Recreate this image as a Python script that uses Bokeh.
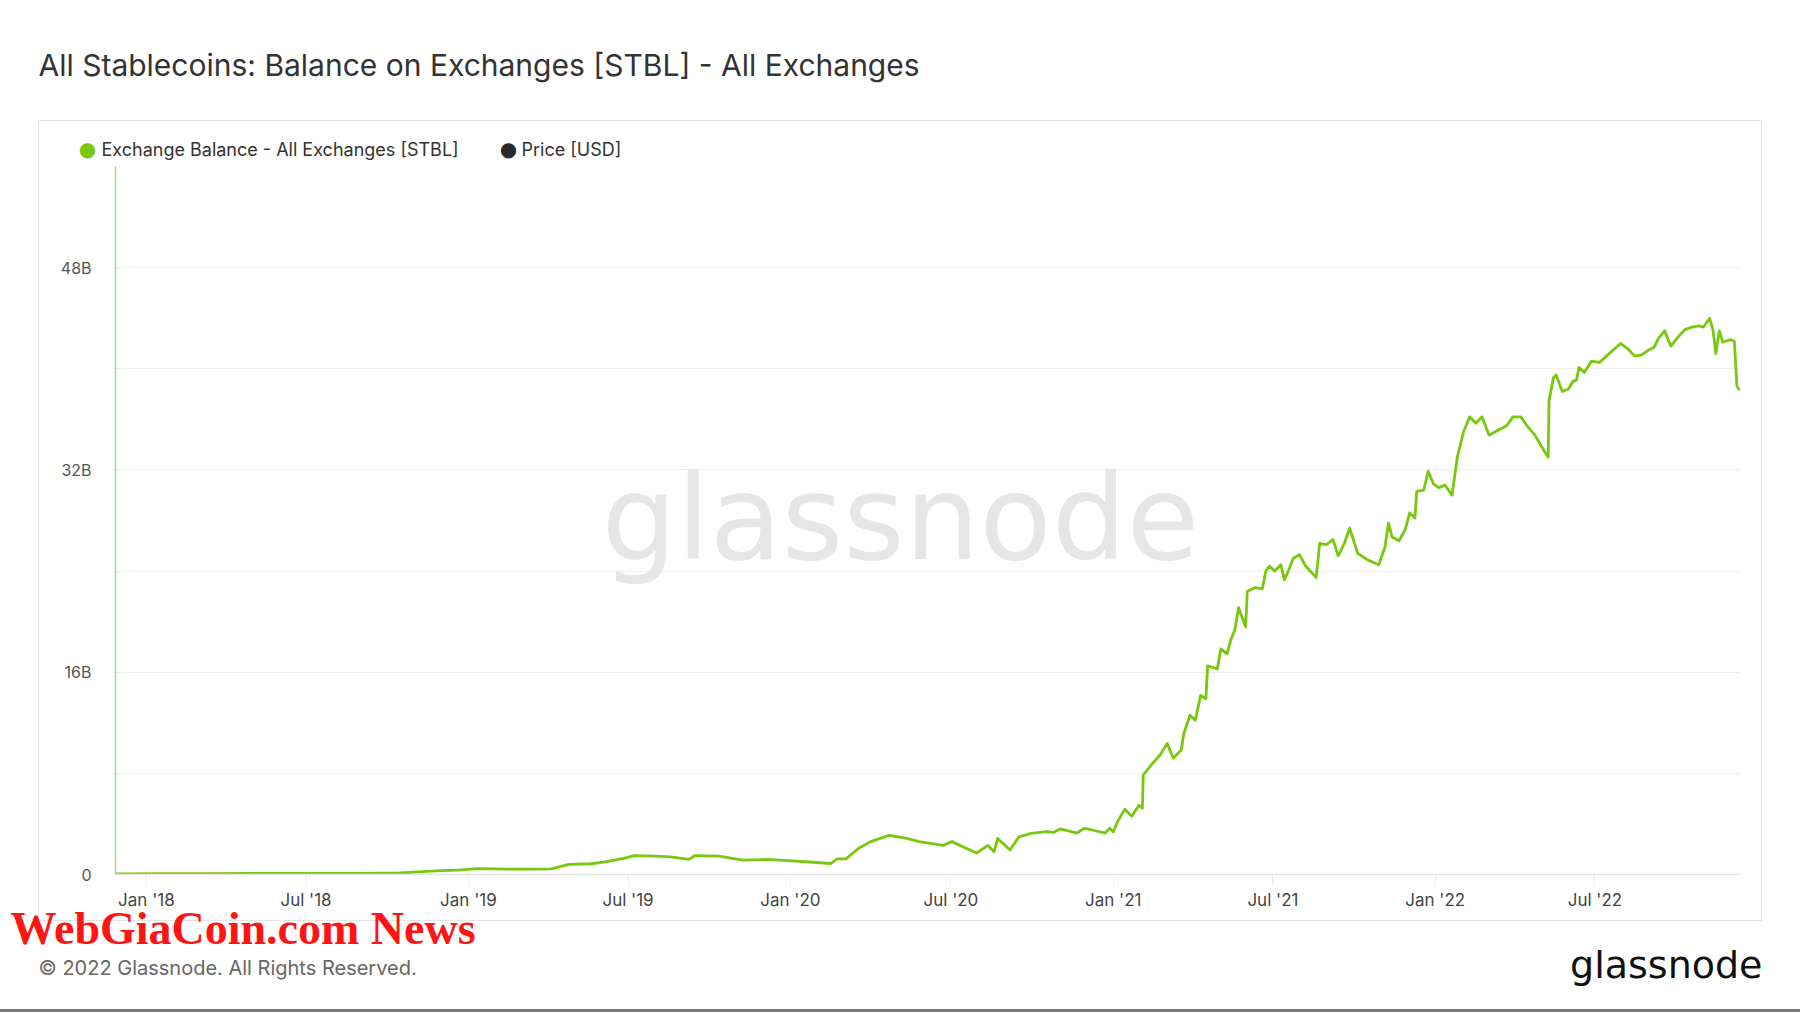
import datetime as dt
from bokeh.plotting import figure
from bokeh.models import (Range1d, Label, FixedTicker,
                          DatetimeTickFormatter, CustomJSTickFormatter)
from bokeh.embed import file_html
from bokeh.resources import INLINE

# ---------------- data ----------------
dates = [
    "2017-11-27", "2018-01-15", "2018-03-01", "2018-05-01", "2018-07-01", "2018-09-01",
    "2018-10-15", "2018-11-10", "2018-12-01", "2018-12-20", "2019-01-11", "2019-02-15",
    "2019-03-15", "2019-04-05", "2019-04-25", "2019-05-20", "2019-06-05", "2019-06-25",
    "2019-07-08", "2019-08-01", "2019-08-18", "2019-09-08", "2019-09-15", "2019-10-12",
    "2019-11-08", "2019-12-06", "2020-01-03", "2020-02-16", "2020-02-23", "2020-03-04",
    "2020-03-18", "2020-04-01", "2020-04-22", "2020-05-12", "2020-05-26", "2020-06-22",
    "2020-07-02", "2020-07-30", "2020-08-12", "2020-08-19", "2020-08-23", "2020-09-06",
    "2020-09-16", "2020-09-30", "2020-10-17", "2020-10-25", "2020-11-02", "2020-11-21",
    "2020-11-29", "2020-12-07", "2020-12-23", "2020-12-28", "2021-01-01", "2021-01-06",
    "2021-01-14", "2021-01-22", "2021-01-30", "2021-02-03", "2021-02-04", "2021-02-13",
    "2021-02-23", "2021-03-03", "2021-03-10", "2021-03-19", "2021-03-22", "2021-03-29",
    "2021-04-04", "2021-04-10", "2021-04-16", "2021-04-18", "2021-04-29", "2021-05-03",
    "2021-05-10", "2021-05-14", "2021-05-19", "2021-05-23", "2021-05-31", "2021-06-02",
    "2021-06-11", "2021-06-19", "2021-06-23", "2021-06-27", "2021-07-03", "2021-07-10",
    "2021-07-14", "2021-07-19", "2021-07-24", "2021-07-31", "2021-08-07", "2021-08-19",
    "2021-08-23", "2021-08-31", "2021-09-07", "2021-09-13", "2021-09-20", "2021-09-26",
    "2021-10-05", "2021-10-16", "2021-10-29", "2021-11-05", "2021-11-09", "2021-11-13",
    "2021-11-21", "2021-11-28", "2021-12-03", "2021-12-09", "2021-12-11", "2021-12-19",
    "2021-12-24", "2021-12-30", "2022-01-05", "2022-01-12", "2022-01-20", "2022-01-26",
    "2022-02-02", "2022-02-09", "2022-02-16", "2022-02-23", "2022-03-03", "2022-03-12",
    "2022-03-23", "2022-03-30", "2022-04-08", "2022-04-16", "2022-04-24", "2022-05-02",
    "2022-05-09", "2022-05-10", "2022-05-15", "2022-05-18", "2022-05-25", "2022-06-01",
    "2022-06-06", "2022-06-10", "2022-06-13", "2022-06-19", "2022-06-27", "2022-07-06",
    "2022-07-14", "2022-07-22", "2022-07-30", "2022-08-07", "2022-08-15", "2022-08-23",
    "2022-08-29", "2022-09-06", "2022-09-11", "2022-09-18", "2022-09-25", "2022-10-03",
    "2022-10-11", "2022-10-19", "2022-10-27", "2022-11-01", "2022-11-08", "2022-11-12",
    "2022-11-15", "2022-11-19", "2022-11-23", "2022-12-01", "2022-12-06", "2022-12-09",
    "2022-12-12",
]
balance_bn = [
    0.05, 0.06, 0.07, 0.08, 0.09, 0.08,
    0.12, 0.22, 0.30, 0.35, 0.47, 0.42,
    0.42, 0.45, 0.80, 0.85, 1.00, 1.25,
    1.50, 1.45, 1.40, 1.20, 1.50, 1.45,
    1.13, 1.19, 1.08, 0.87, 1.24, 1.24,
    2.06, 2.60, 3.10, 2.85, 2.60, 2.30,
    2.60, 1.70, 2.30, 1.80, 2.85, 1.93,
    2.98, 3.25, 3.40, 3.33, 3.60, 3.28,
    3.65, 3.54, 3.28, 3.67, 3.36, 4.20,
    5.17, 4.60, 5.46, 5.25, 7.87, 8.66,
    9.45, 10.37, 9.19, 9.84, 11.15, 12.60,
    12.20, 14.17, 13.90, 16.50, 16.27, 17.85,
    17.45, 18.50, 19.40, 21.10, 19.60, 22.40,
    22.70, 22.60, 24.00, 24.40, 24.00, 24.50,
    23.30, 24.10, 25.00, 25.30, 24.40, 23.50,
    26.20, 26.10, 26.50, 25.20, 26.20, 27.40,
    25.40, 24.90, 24.50, 25.90, 27.80, 26.70,
    26.40, 27.30, 28.60, 28.20, 30.30, 30.40,
    31.90, 30.90, 30.60, 30.80, 30.00, 33.00,
    35.00, 36.20, 35.70, 36.20, 34.75, 35.10,
    35.50, 36.20, 36.20, 35.40, 34.75, 33.80,
    33.00, 37.50, 39.30, 39.50, 38.20, 38.40,
    39.00, 39.10, 40.10, 39.70, 40.60, 40.50,
    41.00, 41.50, 42.00, 41.60, 41.00, 41.10,
    41.40, 41.70, 42.40, 43.00, 41.80, 42.50,
    43.10, 43.30, 43.40, 43.30, 44.00, 43.00,
    41.20, 43.00, 42.10, 42.30, 42.20, 38.60,
    38.30,
]
x_tick_dates = ["2018-01-01", "2018-07-01", "2019-01-01", "2019-07-01", "2020-01-01",
                "2020-07-01", "2021-01-01", "2021-07-01", "2022-01-01", "2022-07-01"]
y_ticks_bn = [0, 16, 32, 48]
y_grid_bn = [0, 8, 16, 24, 32, 40, 48, 56]
x_start, x_end = "2017-11-27", "2022-12-13"

title_text = "All Stablecoins: Balance on Exchanges [STBL] - All Exchanges"
legend_labels = ["Exchange Balance - All Exchanges [STBL]", "Price [USD]"]
legend_colors = ["#78c80e", "#2b2b2b"]
footer_text = "\u00a9 2022 Glassnode. All Rights Reserved."
brand_text = "glassnode"
overlay_text = "WebGiaCoin.com News"

# ---------------- figure ----------------
W, H = 1800, 1013
FL, FR, FT, FB = 115, 1740, 166, 874   # frame edges in page pixels

EPOCH = dt.datetime(1970, 1, 1)
def to_dt(s):
    return dt.datetime.fromisoformat(s)
def to_ms(s):
    return (to_dt(s) - EPOCH).total_seconds() * 1000.0

css = """
:host::before { content: ""; position: absolute; left: 38px; top: 120px;
  width: 1724px; height: 801px; border: 1.5px solid #e4e4e4; box-sizing: border-box;
  pointer-events: none; z-index: -1; }
:host::after { content: ""; position: absolute; left: 0px; top: 1009px;
  width: 1800px; height: 3px; background: #7a7a7a; pointer-events: none; z-index: 10; }
"""

p = figure(width=W, height=H, x_axis_type="datetime",
           output_backend="svg", toolbar_location=None,
           x_range=Range1d(to_dt(x_start), to_dt(x_end)),
           y_range=Range1d(0, 56),
           min_border_left=FL, min_border_right=W - FR,
           min_border_top=FT, min_border_bottom=H - FB,
           stylesheets=[css])
p.background_fill_color = None
p.border_fill_color = None
p.outline_line_color = None

# page-pixel helper ranges (for texts placed around the frame)
p.extra_x_ranges = {"px": Range1d(FL, FR)}
p.extra_y_ranges = {"py": Range1d(FB, FT)}

# axes / grid
p.xgrid.visible = False
p.ygrid.ticker = FixedTicker(ticks=y_grid_bn)
p.ygrid.grid_line_color = "#efefef"
p.ygrid.grid_line_width = 1

p.xaxis.ticker = FixedTicker(ticks=[to_ms(d) for d in x_tick_dates])
p.xaxis.formatter = DatetimeTickFormatter(days="%b '%y", months="%b '%y", years="%b '%y")
p.xaxis.axis_line_color = "#e3e3e3"
p.xaxis.axis_line_width = 1.5
p.xaxis.major_tick_line_color = "#ebebeb"
p.xaxis.major_tick_out = 12
p.xaxis.major_tick_in = 0
p.xaxis.minor_tick_line_color = None
p.xaxis.major_label_standoff = 3
p.xaxis.major_label_text_font = "Inter"
p.xaxis.major_label_text_font_size = "17px"
p.xaxis.major_label_text_color = "#444444"

p.yaxis.ticker = FixedTicker(ticks=y_ticks_bn)
p.yaxis.formatter = CustomJSTickFormatter(code="return tick == 0 ? '0' : tick + 'B';")
p.yaxis.axis_line_color = "#a8dc70"
p.yaxis.axis_line_width = 1.5
p.yaxis.major_tick_line_color = None
p.yaxis.minor_tick_line_color = None
p.yaxis.major_label_standoff = 18
p.yaxis.major_label_text_font = "Inter"
p.yaxis.major_label_text_font_size = "16px"
p.yaxis.major_label_text_color = "#555555"

def add_text(x, y, text, size, color, font="Inter", align="left",
             style="normal", place="above", level="annotation"):
    lab = Label(x=x, y=y, text=text, x_range_name="px", y_range_name="py",
                text_font=font, text_font_size=size, text_color=color,
                text_align=align, text_baseline="middle",
                text_font_style=style, level=level)
    if place == "center":
        p.add_layout(lab)
    else:
        p.add_layout(lab, place)

# watermark (inside the frame)
add_text(900, 517, brand_text, "118px", "#e6e6e6", font="DejaVu Sans",
         align="center", place="center", level="underlay")

# data line
p.line([to_dt(d) for d in dates], balance_bn, line_color=legend_colors[0],
       line_width=2.8, line_join="round")

# title, legend, logo
add_text(38, 64, title_text, "30px", "#333333")
add_text(87, 148, "\u25cf", "20px", legend_colors[0], font="DejaVu Sans",
         align="center", place="left")
add_text(101, 149, legend_labels[0], "18px", "#333333")
add_text(508, 148, "\u25cf", "20px", legend_colors[1], font="DejaVu Sans",
         align="center", place="left")
add_text(521, 149, legend_labels[1], "18px", "#333333")
add_text(1762, 964, brand_text, "38px", "#111111", font="DejaVu Sans", align="right")

# footer
add_text(38, 967, footer_text, "20px", "#666666", place="below")
add_text(10, 927.5, overlay_text, "46px", "#ff1414", font="Liberation Serif",
         style="bold", place="below")

open("out.html", "w").write(file_html(p, INLINE))
